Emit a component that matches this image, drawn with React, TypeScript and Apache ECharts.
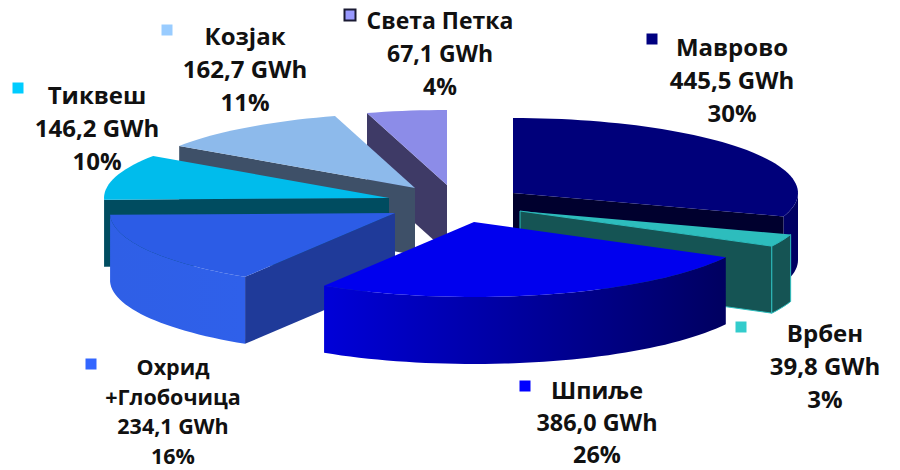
import React, { useEffect, useRef } from "react";
import * as echarts from "echarts";

const names = ["Маврово", "Врбен", "Шпиље", "Охрид\n+Глобочица", "Тиквеш", "Козјак", "Света Петка"];
const energyGWh = [445.5, 39.8, 386.0, 234.1, 146.2, 162.7, 67.1];
const percents = ["30%", "3%", "26%", "16%", "10%", "11%", "4%"];

// Appearance
const topColors = ["#00007a", "#2dbdbd", "#0000ee", "#2c5ce6", "#00bcec", "#8dbaeb", "#8c8ce8"];
const cutColors = ["#00002e", "#155454", "#00009c", "#1f3a99", "#004c60", "#3e5068", "#3e3a66"];
const sideFrom = ["#000066", "#155454", "#0000d8", "#2f5fe6", "#00606f", "#3e5068", "#3e3a66"];
const sideTo = ["#000060", "#155454", "#000060", "#2f60ea", "#00606f", "#3e5068", "#3e3a66"];
const markerColors = ["#000080", "#33cccc", "#0000ff", "#3366ff", "#00ccff", "#99ccff", "#9999ff"];

// Layout
const center = [440, 195];
const radiusX = 285;
const radiusY = 75;
const depth = 67;
const explode = [[73, -2], [80, 16], [34, 27], [-45, 18], [-51, 3], [-25, -7], [7, -10]];
const paintOrder = [6, 5, 4, 3, 0, 1, 2];
const markerPos = [[652, 39], [741, 327], [525, 386], [91, 364], [18, 88], [167, 30], [350, 15]];
const labelPos = [[732, 79], [825, 365], [597, 421.5], [173, 411], [97, 127], [245, 68], [440, 53]];
const labelLine = [33, 33, 32, 29.4, 33, 33, 33];
const labelFont = [24, 24, 23.4, 21.5, 24, 24, 23];

const total = energyGWh.reduce((a, b) => a + b, 0);

function rim(cx: number, cy: number, deg: number) {
  const r = (deg * Math.PI) / 180;
  return [cx + radiusX * Math.sin(r), cy - radiusY * Math.cos(r)];
}

function arcPoints(cx: number, cy: number, a: number, b: number) {
  const pts: number[][] = [];
  const n = Math.max(2, Math.ceil(Math.abs(b - a) / 2));
  for (let i = 0; i <= n; i++) pts.push(rim(cx, cy, a + ((b - a) * i) / n));
  return pts;
}

function cutFaceVisible(edgeDeg: number, innerDeg: number) {
  const p = rim(0, 0, edgeDeg);
  const q = rim(0, 0, innerDeg);
  if (Math.abs(p[0]) < 1e-3) return false;
  return q[1] < (p[1] / p[0]) * q[0];
}

export default function App() {
  const ref = useRef<HTMLDivElement>(null);
  useEffect(() => {
    document.body.style.margin = "0";
    const chart = echarts.init(ref.current!, null, { renderer: "svg" });

    const angles: number[][] = [];
    let acc = 0;
    energyGWh.forEach((v) => {
      const s = acc;
      acc += (v / total) * 360;
      angles.push([s, acc]);
    });

    const renderItem = (_p: any, api: any) => {
      const idx = api.value(0) as number;
      const [a0, a1] = angles[idx];
      const cx = center[0] + explode[idx][0];
      const cy = center[1] + explode[idx][1];
      const children: any[] = [];
      const outline = idx === 1 ? { stroke: "#2dbdbd", lineWidth: 1 } : { stroke: "none" };

      const addCut = (edge: number, inner: number) => {
        if (!cutFaceVisible(edge, inner)) return;
        const p = rim(cx, cy, edge);
        children.push({
          type: "polygon",
          shape: { points: [[cx, cy], p, [p[0], p[1] + depth], [cx, cy + depth]] },
          style: { fill: cutColors[idx], ...outline },
        });
      };
      addCut(a0, a0 + Math.min(5, (a1 - a0) / 2));
      addCut(a1, a1 - Math.min(5, (a1 - a0) / 2));

      const v0 = Math.max(a0, 90);
      const v1 = Math.min(a1, 270);
      if (v1 > v0) {
        const upper = arcPoints(cx, cy, v0, v1);
        const lower = upper.map((p) => [p[0], p[1] + depth]).reverse();
        children.push({
          type: "polygon",
          shape: { points: [...upper, ...lower] },
          style: {
            fill: new echarts.graphic.LinearGradient(0, 0, 1, 0, [
              { offset: 0, color: sideFrom[idx] },
              { offset: 1, color: sideTo[idx] },
            ]),
            ...outline,
          },
        });
      }

      children.push({
        type: "polygon",
        shape: { points: [[cx, cy], ...arcPoints(cx, cy, a0, a1)] },
        style: { fill: topColors[idx], stroke: "none" },
      });
      return { type: "group", children };
    };

    const graphics: any[] = [];
    names.forEach((name, i) => {
      const gwh = energyGWh[i].toFixed(1).replace(".", ",") + " GWh";
      graphics.push({
        type: "rect",
        shape: { x: markerPos[i][0] - 5.5, y: markerPos[i][1] - 5.5, width: 11, height: 11 },
        style: {
          fill: markerColors[i],
          stroke: i === 6 ? "#1a1a33" : "none",
          lineWidth: i === 6 ? 2 : 0,
        },
      });
      graphics.push({
        type: "text",
        x: labelPos[i][0],
        y: labelPos[i][1],
        style: {
          text: `${name}\n${gwh}\n${percents[i]}`,
          fill: "#111111",
          font: `bold ${labelFont[i]}px "Open Sans"`,
          align: "center",
          verticalAlign: "middle",
          lineHeight: labelLine[i],
        },
      });
    });

    chart.setOption({
      animation: false,
      backgroundColor: "#ffffff",
      graphic: graphics,
      series: [
        {
          type: "custom",
          coordinateSystem: "none",
          silent: true,
          renderItem,
          data: paintOrder.map((i) => ({ value: [i, energyGWh[i]], name: names[i] })),
        },
      ],
    });
    return () => chart.dispose();
  }, []);
  return <div ref={ref} style={{ width: 900, height: 470 }} />;
}
